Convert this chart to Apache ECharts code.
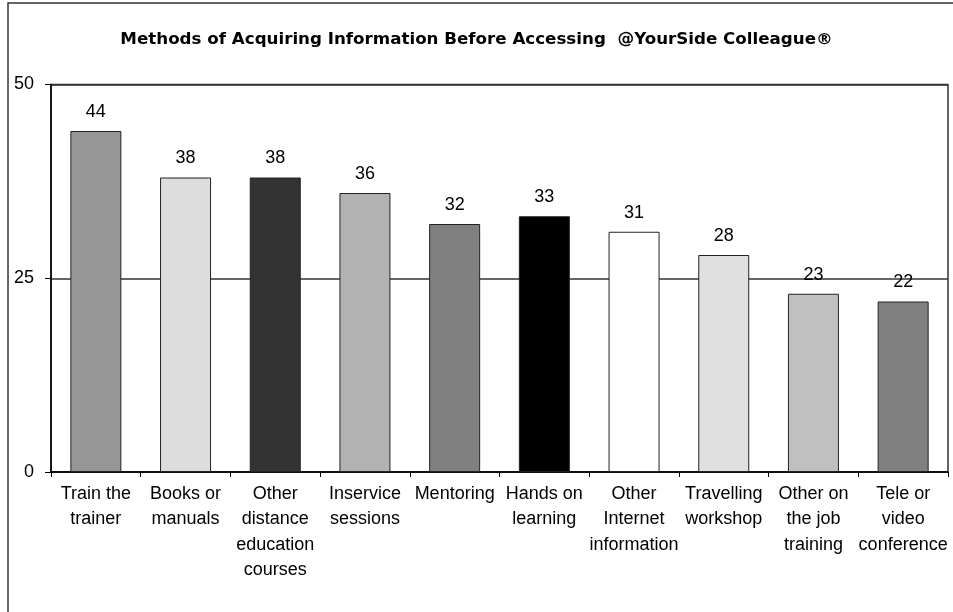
<!DOCTYPE html>
<html>
<head>
<meta charset="utf-8">
<script src="https://cdn.jsdelivr.net/npm/echarts@6/dist/echarts.min.js"></script>
<style>
html,body{margin:0;padding:0;background:#fff;}
#chart{width:953px;height:612px;}
</style>
</head>
<body>
<div id="chart"></div>
<script>
const titleText = "Methods of Acquiring Information Before Accessing  @YourSide Colleague®";
const categories = [
  "Train the\ntrainer",
  "Books or\nmanuals",
  "Other\ndistance\neducation\ncourses",
  "Inservice\nsessions",
  "Mentoring",
  "Hands on\nlearning",
  "Other\nInternet\ninformation",
  "Travelling\nworkshop",
  "Other on\nthe job\ntraining",
  "Tele or\nvideo\nconference"
];
const values = [44, 38, 38, 36, 32, 33, 31, 28, 23, 22];
const yTicks = [0, 25, 50];
const barColors = ["#969696", "#dddddd", "#333333", "#b2b2b2", "#808080", "#000000", "#ffffff", "#e0e0e0", "#c0c0c0", "#808080"];

const chart = echarts.init(document.getElementById('chart'), null, {renderer: 'canvas'});
chart.setOption({
  animation: false,
  backgroundColor: '#ffffff',
  title: {
    text: titleText,
    left: 'center',
    top: 26,
    textStyle: {fontFamily: 'DejaVu Sans', fontWeight: 'bold', fontSize: 16.7, color: '#000'}
  },
  graphic: [{
    type: 'rect',
    shape: {x: 8, y: 3, width: 1000, height: 700},
    style: {fill: 'none', stroke: '#333', lineWidth: 1.5},
    silent: true
  }],
  grid: {
    left: 51, right: 5, top: 84.5, bottom: 140,
    show: true, borderColor: '#333', borderWidth: 1.5, backgroundColor: 'transparent'
  },
  xAxis: {
    type: 'category',
    data: categories,
    axisLine: {lineStyle: {color: '#000', width: 1.5}},
    axisTick: {show: true, length: 5, interval: 0, lineStyle: {color: '#000', width: 1}},
    axisLabel: {
      interval: 0, margin: 9, color: '#000',
      fontFamily: 'Liberation Sans', fontSize: 18, lineHeight: 25.5
    }
  },
  yAxis: {
    type: 'value',
    min: yTicks[0], max: yTicks[yTicks.length - 1], interval: 25,
    axisLine: {show: true, lineStyle: {color: '#000', width: 1.5}},
    axisTick: {show: true, length: 6, lineStyle: {color: '#000'}},
    splitLine: {show: true, lineStyle: {color: '#333', width: 1.5}},
    axisLabel: {margin: 17, color: '#000', fontFamily: 'Liberation Sans', fontSize: 18}
  },
  series: [{
    type: 'bar',
    barWidth: 51,
    data: values.map((v, i) => ({
      value: v,
      itemStyle: {color: barColors[i], borderColor: '#222', borderWidth: 1}
    })),
    label: {
      show: true, position: 'top', distance: 10, color: '#000',
      fontFamily: 'Liberation Sans', fontSize: 18
    }
  }]
});
</script>
</body>
</html>
